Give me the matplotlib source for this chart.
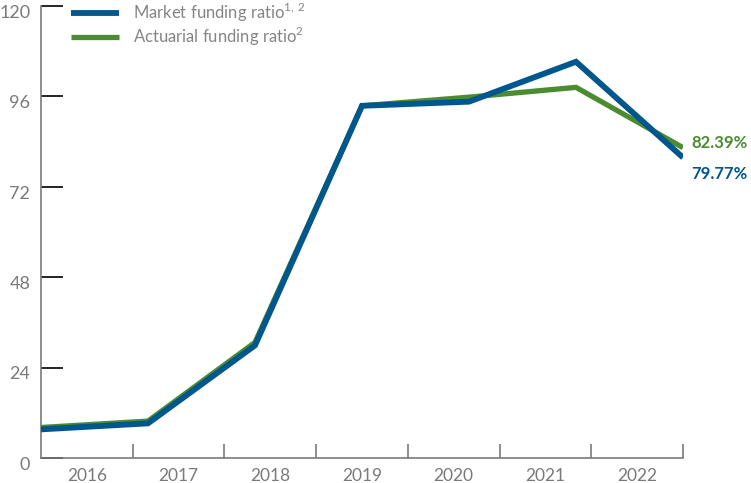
import numpy as np
import matplotlib.pyplot as plt

plt.rcParams['font.family'] = ['Lato', 'DejaVu Sans']
plt.rcParams['mathtext.fontset'] = 'custom'
plt.rcParams['mathtext.rm'] = 'Lato'

years = ['2016', '2017', '2018', '2019', '2020', '2021', '2022']
market = [7.6, 9.2, 29.9, 93.5, 94.6, 105.2, 79.77]
actuarial = [8.1, 9.8, 30.7, 93.5, 95.8, 98.4, 82.39]
yticks = [0, 24, 48, 72, 96, 120]

blue = '#00578e'
green = '#4b8c31'
grey = '#7a7a7a'

fig = plt.figure(figsize=(7.51, 4.83), dpi=100)
ax = fig.add_axes([41 / 751, 25 / 483, 642 / 751, 452 / 483])

x = np.arange(len(years))
ax.plot(x, actuarial, color=green, lw=3.8, solid_joinstyle='miter',
        solid_capstyle='butt', label='Actuarial funding ratio$^{2}$', zorder=2)
ax.plot(x, market, color=blue, lw=4.2, solid_joinstyle='miter',
        solid_capstyle='butt', label='Market funding ratio$^{1,\\,2}$', zorder=3)

ax.set_xlim(0, len(years) - 1)
ax.set_ylim(0, 120)

# category bins: 7 equal bins across the data span
n = len(years)
edges = np.linspace(0, n - 1, n + 1)
centers = (edges[:-1] + edges[1:]) / 2
ax.set_xticks(edges[1:])
ax.set_xticklabels([])
ax.tick_params(axis='x', direction='in', length=10, color=grey, width=1.2)
for c, yr in zip(centers, years):
    ax.text(c, -2.6, yr, ha='center', va='top', fontsize=12.5, color=grey)

ax.set_yticks(yticks)
ax.set_yticklabels([])
ax.tick_params(axis='y', direction='in', length=16, color='black', width=1.2)
for v in yticks:
    ax.text(-0.1, v - 1.8, str(v), ha='right', va='center', fontsize=13, color=grey)

for s in ['top', 'right']:
    ax.spines[s].set_visible(False)
for s in ['left', 'bottom']:
    ax.spines[s].set_color(grey)
    ax.spines[s].set_linewidth(1.2)

ax.text(n - 1 + 0.08, actuarial[-1] + 1.2, '82.39%', color=green, fontsize=12,
        fontweight='bold', ha='left', va='center')
ax.text(n - 1 + 0.08, market[-1] - 4.3, '79.77%', color=blue, fontsize=12,
        fontweight='bold', ha='left', va='center')

h, l = ax.get_legend_handles_labels()
leg = fig.legend(h[::-1], l[::-1], loc='upper left', bbox_to_anchor=(56 / 751, 1.03),
                 frameon=False, fontsize=12, handlelength=2.9, handletextpad=0.8,
                 labelspacing=0.08, labelcolor='#858585')

fig.savefig('out.png', dpi=100)
